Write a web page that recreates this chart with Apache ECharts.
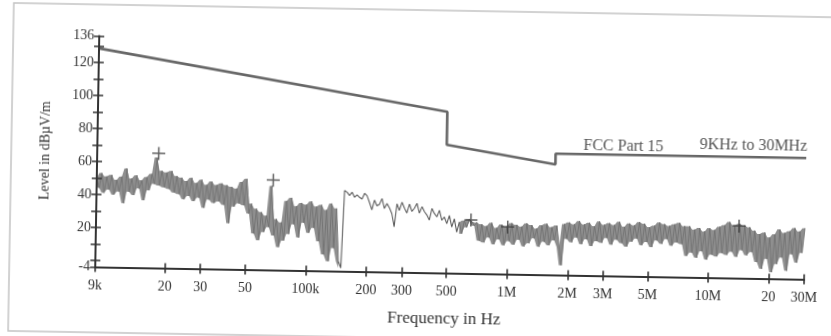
<!DOCTYPE html>
<html><head><meta charset="utf-8">
<script src="https://cdn.jsdelivr.net/npm/echarts@6/dist/echarts.min.js"></script>
<style>
html,body{margin:0;padding:0;background:#fff;overflow:hidden;width:831px;height:336px;}
#chart{position:absolute;left:-20px;top:-20px;width:871px;height:376px;background:#fff;transform:rotate(1deg);transform-origin:50% 50%;}
</style></head><body><div id="chart"></div>
<script>
// Measured sweep (log-spaced frequency grid from start to stop), levels in dBµV/m
const sweepStartHz = 9000;
const sweepStopHz = 30000000;
const levels = [
  50,44,53,41,51,43,52,40,49,42,
  51,35,56,42,50,40,52,44,49,37,
  51,43,53,47,63,46,55,45,54,44,
  55,42,52,41,51,38,49,40,51,37,
  48,39,50,33,47,38,49,36,47,37,
  48,35,47,24,46,34,45,36,49,35,
  51,30,36,18,33,14,31,19,29,22,
  47,17,27,10,25,14,38,18,40,24,
  35,16,37,25,36,19,38,22,35,14,
  36,6,33,2,37,10,34,2,-2,45,
  44,42,44,41,42.5,41,40,43.5,42,38,
  33.5,39.5,36,37,40.5,34.5,37.5,35,31.5,23.5,
  37.5,33.5,38.5,35,32,37.5,33,35,38,32,
  36,33,31,28,35,32,30,34,28,30,
  26,31,24,29,21,27,20,28,24,29,
  27.5,25,27,16,26,15,25,18,27,14,
  24,17,26,13.5,25,16,27,14,26,17,
  25,13,27,15,26,18,24,13,26,16,
  27,14,25,17,26,13,2,27,18,28,
  16,27,19,29,15,27,18,28,14,26,
  17,29,16,27,19,28,15,27,18,29,
  16,26,14,28,17,27,19,29,15,28,
  17,26,14,27,18,29,16,28,19,27,
  15,28,17,29,16,27,9,27,11,25,
  8,26,12,24,7,26,10,25,9,27,
  11,28,10,30,12,28,9,29,13,28,
  10,27,12,25,6,23,2,24,8,21,
  0,23,5,26,9,24,1,25,11,27,
  6,25,12,27
];
// Frequency range where the analyser trace is a single thin line
const thinFromHz = 150000;
const thinToHz = 560000;
// FCC Part 15 limit line
const limitFreqsHz = [9000, 490000, 490000, 1705000, 1705000, 30000000];
const limitLevels  = [128.5, 93.8, 73.8, 63.0, 69.5, 69.5];
// Peak markers (+)
const markerFreqsHz = [18200, 67800, 656000, 1000000, 14100000];
const markerLevels  = [65.5, 50.5, 28.4, 24.6, 27.6];
// Axis ticks
const yTickValues  = [-4,0,10,20,30,40,50,60,70,80,90,100,110,120,130,136];
const yLabelValues = [-4,20,40,60,80,100,120,136];
const xTickFreqsHz = [9e3,2e4,3e4,5e4,1e5,2e5,3e5,5e5,1e6,2e6,3e6,5e6,1e7,2e7,3e7];
const xTickLabels  = ['9k','20','30','50','100k','200','300','500','1M','2M','3M','5M','10M','20','30M'];

const lg = Math.log10;
const xMin = lg(sweepStartHz), xMax = lg(sweepStopHz);
const n = levels.length;
const xs = levels.map((v, i) => xMin + (xMax - xMin) * i / (n - 1));
const traceData = levels.map((v, i) => [xs[i], v]);
const tA = lg(thinFromHz), tB = lg(thinToHz);
const isDense = x => (x < tA - 0.004 || x > tB + 0.004);
const denseData = traceData.map(p => isDense(p[0]) ? p : [p[0], null]);
const thinData = traceData.map(p => (p[0] >= tA - 0.02 && p[0] <= tB + 0.02) ? p : [p[0], null]);
// shading of the noisy band: span between each pair of consecutive sweep points
const nearDense = i => isDense(xs[i]) || (i > 0 && isDense(xs[i - 1])) || (i < n - 1 && isDense(xs[i + 1]));
const bandHigh = levels.map((v, i) => isDense(xs[i]) ? [xs[i], Math.max(...levels.slice(i, i + 2))] : [xs[i], null]);
const bandLow  = levels.map((v, i) => nearDense(i) ? [xs[i], Math.min(...levels.slice(i, i + 2))] : [xs[i], null]);
const limitData = limitFreqsHz.map((f, i) => [lg(f), limitLevels[i]]);
const markerData = markerFreqsHz.map((f, i) => [lg(f), markerLevels[i]]);
const xTickLogs = xTickFreqsHz.map(lg);

const serif = 'Liberation Serif';
const axisColor = '#333';

function xFmt(v) {
  const i = xTickLogs.findIndex(t => Math.abs(t - v) < 1e-6);
  return i >= 0 ? xTickLabels[i] : '';
}

const chart = echarts.init(document.getElementById('chart'), null, {renderer: 'canvas'});
chart.setOption({
  animation: false,
  backgroundColor: '#fff',
  grid: {left: 117, right: 45, top: 61.5, bottom: 83.4},
  graphic: [
    {type: 'rect', shape: {x: 31, y: 30, width: 900, height: 328},
     style: {fill: 'none', stroke: '#c4c4c4', lineWidth: 1.5}, silent: true},
    {type: 'text', x: 643, y: 162.4,
     style: {text: 'FCC Part 15', font: '16px "Liberation Serif"', fill: '#555', align: 'center', verticalAlign: 'middle'}},
    {type: 'text', x: 773, y: 160.1,
     style: {text: '9KHz to 30MHz', font: '16px "Liberation Serif"', fill: '#555', align: 'center', verticalAlign: 'middle'}}
  ],
  xAxis: [{
    type: 'value', min: xMin, max: xMax, position: 'bottom', z: 6,
    name: 'Frequency in Hz', nameLocation: 'middle', nameGap: 37,
    nameTextStyle: {fontFamily: serif, fontSize: 17, color: '#333', padding: [0, 10, 0, 0]},
    axisLine: {show: true, onZero: false, lineStyle: {color: axisColor, width: 2}},
    axisTick: {show: true, inside: false, length: 5, customValues: xTickLogs, lineStyle: {color: axisColor, width: 1.6}},
    axisLabel: {show: true, customValues: xTickLogs, formatter: xFmt, margin: 12,
      fontFamily: serif, fontSize: 14, color: '#333'},
    splitLine: {show: false}
  }, {
    type: 'value', min: xMin, max: xMax, position: 'bottom', offset: 0, z: 6,
    axisLine: {show: false, onZero: false},
    axisTick: {show: true, inside: true, length: 5, customValues: xTickLogs, lineStyle: {color: axisColor, width: 1.6}},
    axisLabel: {show: false},
    splitLine: {show: false}
  }],
  yAxis: [{
    type: 'value', min: -4, max: 136, position: 'left', z: 6,
    name: 'Level in dBµV/m', nameLocation: 'middle', nameGap: 45, nameRotate: 90,
    nameTextStyle: {fontFamily: serif, fontSize: 14, color: '#333'},
    axisLine: {show: true, onZero: false, lineStyle: {color: axisColor, width: 2}},
    axisTick: {show: true, inside: false, length: 5, customValues: yTickValues, lineStyle: {color: axisColor, width: 1.5}},
    axisLabel: {show: true, customValues: yLabelValues, margin: 5, fontFamily: serif, fontSize: 14, color: '#333'},
    splitLine: {show: false}
  }, {
    type: 'value', min: -4, max: 136, position: 'left', offset: 0, z: 6,
    axisLine: {show: false, onZero: false},
    axisTick: {show: true, inside: true, length: 5, customValues: yTickValues, lineStyle: {color: axisColor, width: 1.5}},
    axisLabel: {show: false},
    splitLine: {show: false}
  }],
  series: [{
    name: 'band', type: 'line', data: bandHigh, symbol: 'none', connectNulls: false,
    lineStyle: {opacity: 0}, areaStyle: {color: '#8f8f8f', opacity: 1, origin: 'start'}, silent: true, z: 1
  }, {
    name: 'band mask', type: 'line', data: bandLow, symbol: 'none', connectNulls: false,
    lineStyle: {opacity: 0}, areaStyle: {color: '#ffffff', opacity: 1, origin: 'start'}, silent: true, z: 2
  }, {
    name: 'FCC Part 15', type: 'line', data: limitData, symbol: 'none',
    lineStyle: {color: '#676767', width: 2.6}, z: 3
  }, {
    name: 'Level', type: 'line', data: denseData, symbol: 'none', connectNulls: false,
    lineStyle: {color: '#727272', width: 0.9}, z: 3
  }, {
    name: 'Level (fine)', type: 'line', data: thinData, symbol: 'none', connectNulls: false,
    lineStyle: {color: '#5e5e5e', width: 1.1}, z: 3
  }, {
    name: 'Peaks', type: 'scatter', data: markerData,
    symbol: 'path://M0,5.6H13V7.1H0Z M5.75,0H7.25V13H5.75Z', symbolSize: 13,
    itemStyle: {color: '#3a3a3a'}, z: 4
  }]
});
</script>
</body></html>
